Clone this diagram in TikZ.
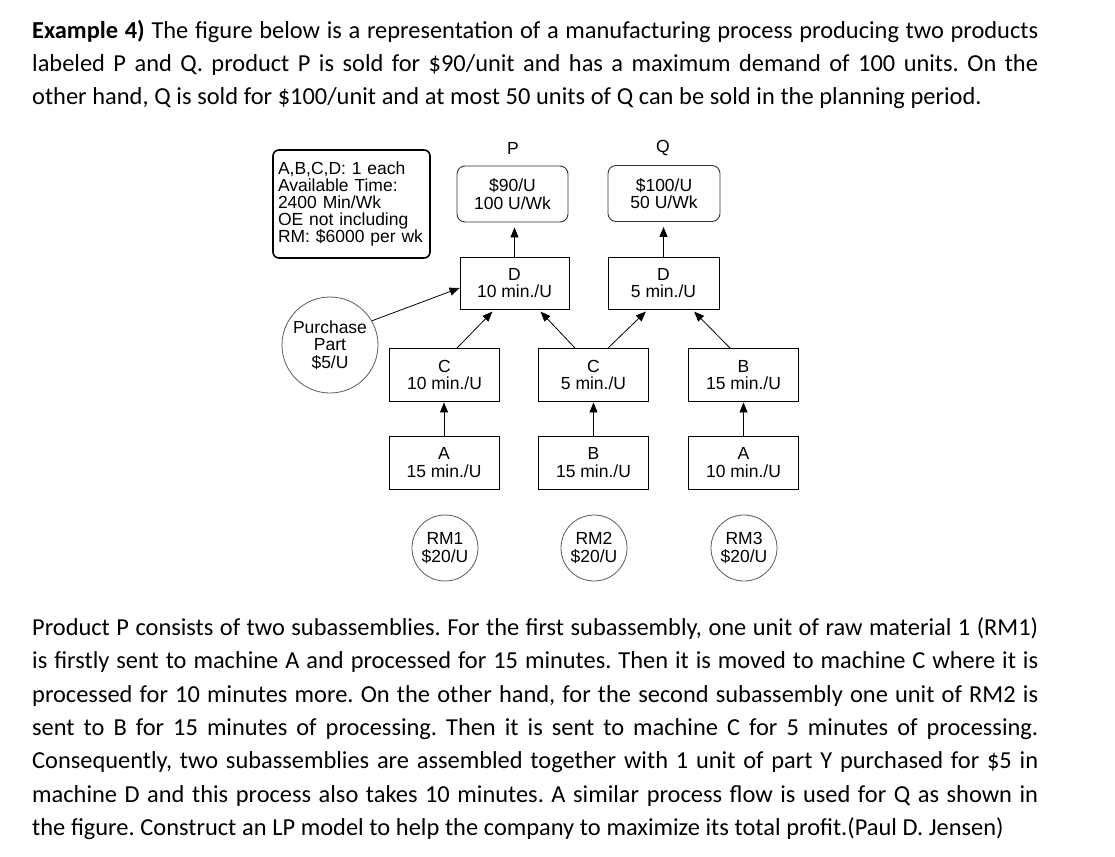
\documentclass[tikz,border=0pt]{standalone}
\usepackage{fontspec}
\newfontfamily\bodyfont{Carlito}
\newfontfamily\diafont{Liberation Sans}
\usetikzlibrary{arrows}
\usetikzlibrary{positioning}
\usetikzlibrary{shapes.geometric}
\usetikzlibrary{arrows.meta}
\newcommand{\dfont}{\diafont\fontsize{17.5pt}{17.5pt}\selectfont}
\newcommand{\tfont}{\bodyfont\fontsize{24.4pt}{33.4pt}\selectfont\frenchspacing\spaceskip=0.234em plus 0.25em minus 0.07em\relax}

\begin{document}
\begin{tikzpicture}[x=1pt,y=-1pt,->,>={Triangle[length=10pt,width=8pt]}]
			\tikzset{machine/.style = {shape=rectangle, draw, line width=0.9pt, minimum width=110pt, minimum height=53pt, inner sep=0pt, align=center, font=\dfont}}
			\tikzset{price/.style = {machine, rounded corners=8pt, draw=black!80, minimum width=111pt, minimum height=56pt}}
			\tikzset{stock/.style = {shape=circle, draw=black!65, line width=0.8pt, minimum size=66pt, inner sep=0pt, align=center, font=\dfont}}
			\tikzset{flow/.style = {line width=0.8pt, shorten >=3pt}}
			\tikzset{para/.style = {anchor=north west, inner sep=0pt, text width=1006pt, align=justify, font=\tfont}}
			\useasboundingbox (0,0) rectangle (1115,856);
			
			\node[para] (intro) at (32,14)
			{\rule{0pt}{24pt}\textbf{Example 4)} The figure below is a representation of a manufacturing process producing two products\linebreak
				labeled P and Q. product P is sold for \$90/unit and has a maximum demand of 100 units. On the\linebreak
				other hand, Q is sold for \$100/unit and at most 50 units of Q can be sold in the planning period.
			};
			
			% products
			\node[font=\dfont] (labelP) at (513,148) {P};
			\node[font=\dfont] (labelQ) at (663,148) {Q};
			\node[price] (priceP) at (512.5,194) {\$90/U\\100 U/Wk};
			\node[price, minimum width=112pt] (priceQ) at (664,193.5) {\$100/U\\50 U/Wk};
			\node[machine, minimum width=109pt, minimum height=52pt] (DP) at (514.5,283) {D\\10 min./U};
			\node[machine, minimum width=111pt, minimum height=52pt] (DQ) at (663.5,283) {D\\5 min./U};
			
			\node[shape=rectangle, rounded corners=6pt, draw, line width=1.6pt, text width=147pt, inner sep=5pt, minimum height=108pt, align=left, font={\diafont\fontsize{17.5pt}{17.2pt}\selectfont}] (info) at (351.5,204)
			{A,B,C,D: 1 each\\
				Available Time:\\
				2400 Min/Wk\\
				OE not including\\
				RM: \$6000 per wk};
			
			% machines
			\node[machine] (CP) at (444.5,375) {C\\10 min./U};
			\node[machine] (CQ) at (593.5,375) {C\\5 min./U};
			\node[machine] (BQ) at (743.5,375) {B\\15 min./U};
			\node[machine] (AP) at (444,462.5) {A\\15 min./U};
			\node[machine] (BP) at (593.5,462.5) {B\\15 min./U};
			\node[machine] (AQ) at (743.5,462.5) {A\\10 min./U};
			
			% materials
			\node[stock, minimum size=96pt] (part) at (330,345) {Purchase\\Part\\\$5/U};
			\node[stock] (RM1) at (445,548) {RM1\\\$20/U};
			\node[stock] (RM2) at (594,548) {RM2\\\$20/U};
			\node[stock] (RM3) at (744,548) {RM3\\\$20/U};
			
			\draw[flow, shorten >=5pt] (DP.north) -- (DP.north |- priceP.south);
			\draw[flow, shorten >=5pt] (DQ.north) -- (DQ.north |- priceQ.south);
			\draw[flow, shorten >=0pt] (part.30) -- ([yshift=-5pt]DP.west);
			\draw[flow] ([xshift=12.5pt]CP.north) -- ([xshift=-20pt]DP.south);
			\draw[flow] ([xshift=-18.5pt]CQ.north) -- ([xshift=24pt]DP.south);
			\draw[flow] ([xshift=14.5pt]CQ.north) -- ([xshift=-15.5pt]DQ.south);
			\draw[flow] ([xshift=-13.5pt]BQ.north) -- ([xshift=28.5pt]DQ.south);
			\foreach \from/\to in {AP/CP, BP/CQ, AQ/BQ}
			\draw[flow, shorten >=0.5pt] (\from.north) -- (\from.north |- \to.south);
			
			\node[para] (task) at (32,611)
			{\rule{0pt}{24pt}Product P consists of two subassemblies. For the first subassembly, one unit of raw material 1 (RM1)\linebreak
				is firstly sent to machine A and processed for 15 minutes. Then it is moved to machine C where it is\linebreak
				processed for 10 minutes more. On the other hand, for the second subassembly one unit of RM2 is\linebreak
				sent to B for 15 minutes of processing. Then it is sent to machine C for 5 minutes of processing.\linebreak
				Consequently, two subassemblies are assembled together with 1 unit of part Y purchased for \$5 in\linebreak
				machine D and this process also takes 10 minutes. A similar process flow is used for Q as shown in\linebreak
				the figure. Construct an LP model to help the company to maximize its total profit.(Paul D. Jensen)
			};
			
			\end{tikzpicture}
\end{document}
